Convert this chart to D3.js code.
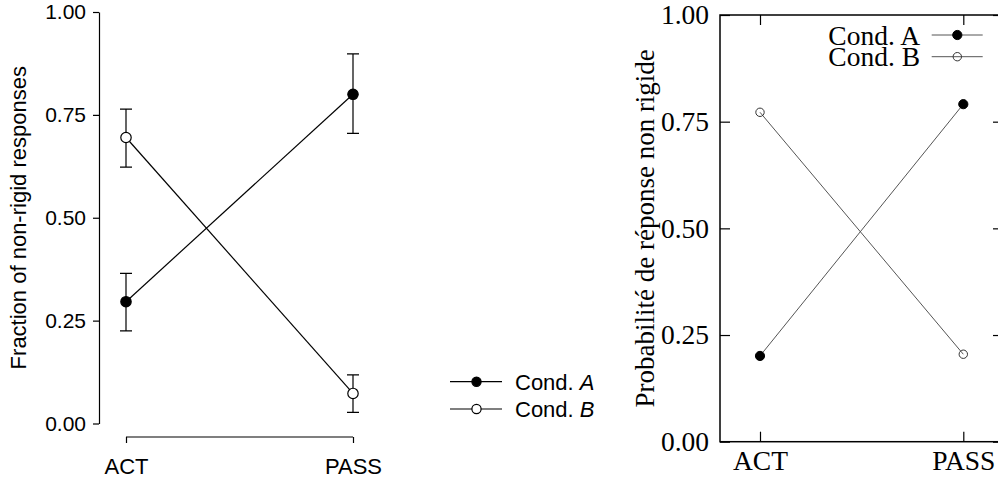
<!DOCTYPE html>
<html><head><meta charset="utf-8">
<script src="https://cdn.jsdelivr.net/npm/d3@7"></script>
<style>body{margin:0;background:#fff}svg{display:block}</style>
</head><body>
<svg id="c" width="998" height="482"></svg>
<script>
// ---- data ----
const categories = ["ACT", "PASS"];
const yTicks = [0, 0.25, 0.5, 0.75, 1.0];
// left panel (means with error bars)
const leftA = [0.296, 0.800];
const leftAlo = [0.225, 0.705];
const leftAhi = [0.365, 0.898];
const leftB = [0.695, 0.073];
const leftBlo = [0.623, 0.027];
const leftBhi = [0.764, 0.118];
// right panel
const rightA = [0.201, 0.791];
const rightB = [0.772, 0.205];
const seriesNames = ["Cond. ", "Cond. "];
const seriesLetters = ["A", "B"];

const svg = d3.select("#c");
const fmt = d3.format(".2f");

// ===== LEFT PANEL =====
{
  const g = svg.append("g");
  const x = d3.scalePoint().domain(categories).range([126, 353]);
  const y = d3.scaleLinear().domain([0, 1]).range([423.5, 12]);
  const sans = "'Liberation Sans', Arial, sans-serif";

  const yAx = g.append("g").attr("transform", "translate(99,0)")
    .call(d3.axisLeft(y).tickValues(yTicks).tickFormat(fmt).tickSize(6).tickPadding(7).tickSizeOuter(0));
  yAx.select(".domain").attr("stroke", "#000").attr("stroke-width", 1.2);
  yAx.selectAll(".tick line").attr("stroke", "#000").attr("stroke-width", 1.2);
  yAx.selectAll("text").attr("font-family", sans).attr("font-size", 21).attr("fill", "#000");

  const xAx = g.append("g").attr("transform", "translate(0,437)")
    .call(d3.axisBottom(x).tickSize(6).tickPadding(15).tickSizeOuter(0));
  xAx.select(".domain").attr("d", `M${x("ACT")},0H${x("PASS")}`).attr("stroke", "#000").attr("stroke-width", 1.2);
  xAx.selectAll(".tick line").attr("stroke", "#000").attr("stroke-width", 1.2);
  xAx.selectAll("text").attr("font-family", sans).attr("font-size", 22).attr("fill", "#000");

  g.append("text").attr("transform", `translate(26,${y(0.5)}) rotate(-90)`)
    .attr("text-anchor", "middle").attr("font-family", sans).attr("font-size", 22)
    .text("Fraction of non-rigid responses");

  const line = d3.line().x((d, i) => x(categories[i])).y(d => y(d));
  const series = [
    {v: leftA, lo: leftAlo, hi: leftAhi, fill: "#000"},
    {v: leftB, lo: leftBlo, hi: leftBhi, fill: "#fff"}
  ];
  series.forEach(s => {
    g.append("path").attr("d", line(s.v)).attr("fill", "none").attr("stroke", "#000").attr("stroke-width", 1.2);
    s.v.forEach((v, i) => {
      const cx = x(categories[i]);
      g.append("path").attr("d", `M${cx},${y(s.lo[i])}V${y(s.hi[i])}M${cx-6},${y(s.lo[i])}h12M${cx-6},${y(s.hi[i])}h12`)
        .attr("stroke", "#000").attr("stroke-width", 1.2).attr("fill", "none");
    });
    s.v.forEach((v, i) => {
      g.append("circle").attr("cx", x(categories[i])).attr("cy", y(v)).attr("r", 5.2)
        .attr("fill", s.fill).attr("stroke", "#000").attr("stroke-width", 1.2);
    });
  });

  // legend
  const legY = [381.7, 409];
  series.forEach((s, k) => {
    g.append("line").attr("x1", 450).attr("x2", 502).attr("y1", legY[k]).attr("y2", legY[k])
      .attr("stroke", "#000").attr("stroke-width", 1.2);
    g.append("circle").attr("cx", 476.5).attr("cy", legY[k]).attr("r", 4.6)
      .attr("fill", s.fill).attr("stroke", "#000").attr("stroke-width", 1.2);
    const t = g.append("text").attr("x", 515).attr("y", legY[k]).attr("dy", "0.36em")
      .attr("font-family", sans).attr("font-size", 22);
    t.append("tspan").text(seriesNames[k]);
    t.append("tspan").attr("font-style", "italic").text(seriesLetters[k]);
  });
}

// ===== RIGHT PANEL =====
{
  const g = svg.append("g");
  const serif = "'Liberation Serif', 'Times New Roman', serif";
  const L = 720, R = 1003, T = 15, B = 441.7;
  const x = d3.scalePoint().domain(categories).range([760, 963.3]);
  const y = d3.scaleLinear().domain([0, 1]).range([B, T]);

  g.append("rect").attr("x", L).attr("y", T).attr("width", R - L).attr("height", B - T)
    .attr("fill", "none").attr("stroke", "#000").attr("stroke-width", 1.5);

  const yAx = g.append("g").attr("transform", `translate(${L},0)`)
    .call(d3.axisLeft(y).tickValues(yTicks).tickFormat(fmt).tickSize(-10).tickPadding(12).tickSizeOuter(0));
  yAx.select(".domain").remove();
  yAx.selectAll(".tick line").attr("stroke", "#000").attr("stroke-width", 1.2);
  yAx.selectAll("text").attr("font-family", serif).attr("font-size", 27.5).attr("fill", "#000").attr("x", -11);

  const yAxR = g.append("g").attr("transform", `translate(${R},0)`)
    .call(d3.axisRight(y).tickValues(yTicks).tickFormat("").tickSize(-10).tickSizeOuter(0));
  yAxR.select(".domain").remove();
  yAxR.selectAll(".tick line").attr("stroke", "#000").attr("stroke-width", 1.2);

  const xAx = g.append("g").attr("transform", `translate(0,${B})`)
    .call(d3.axisBottom(x).tickSize(-10).tickPadding(10).tickSizeOuter(0));
  xAx.select(".domain").remove();
  xAx.selectAll(".tick line").attr("stroke", "#000").attr("stroke-width", 1.2);
  xAx.selectAll("text").attr("font-family", serif).attr("font-size", 27.5).attr("fill", "#000").attr("y", 9);

  const xAxT = g.append("g").attr("transform", `translate(0,${T})`)
    .call(d3.axisTop(x).tickSize(-10).tickFormat("").tickSizeOuter(0));
  xAxT.select(".domain").remove();
  xAxT.selectAll(".tick line").attr("stroke", "#000").attr("stroke-width", 1.2);

  g.append("text").attr("transform", `translate(645,${(T + B) / 2}) rotate(-90)`)
    .attr("text-anchor", "middle").attr("dy", "0.35em").attr("font-family", serif).attr("font-size", 27)
    .text("Probabilité de réponse non rigide");

  const line = d3.line().x((d, i) => x(categories[i])).y(d => y(d));
  const series = [{v: rightA, filled: true}, {v: rightB, filled: false}];
  series.forEach(s => {
    g.append("path").attr("d", line(s.v)).attr("fill", "none").attr("stroke", "#555").attr("stroke-width", 1);
    s.v.forEach((v, i) => {
      g.append("circle").attr("cx", x(categories[i])).attr("cy", y(v)).attr("r", s.filled ? 4.6 : 4.2)
        .attr("fill", s.filled ? "#000" : "none").attr("stroke", s.filled ? "#000" : "#333").attr("stroke-width", 1);
    });
  });

  const legY = [35, 56.7];
  series.forEach((s, k) => {
    g.append("line").attr("x1", 931.7).attr("x2", 982.7).attr("y1", legY[k]).attr("y2", legY[k])
      .attr("stroke", "#555").attr("stroke-width", 1);
    g.append("circle").attr("cx", 957.3).attr("cy", legY[k]).attr("r", s.filled ? 4.6 : 4.2)
      .attr("fill", s.filled ? "#000" : "none").attr("stroke", s.filled ? "#000" : "#333").attr("stroke-width", 1);
    g.append("text").attr("x", 920).attr("y", legY[k]).attr("dy", "0.35em").attr("text-anchor", "end")
      .attr("font-family", serif).attr("font-size", 27.5).text(seriesNames[k] + seriesLetters[k]);
  });
}
</script>
</body></html>
